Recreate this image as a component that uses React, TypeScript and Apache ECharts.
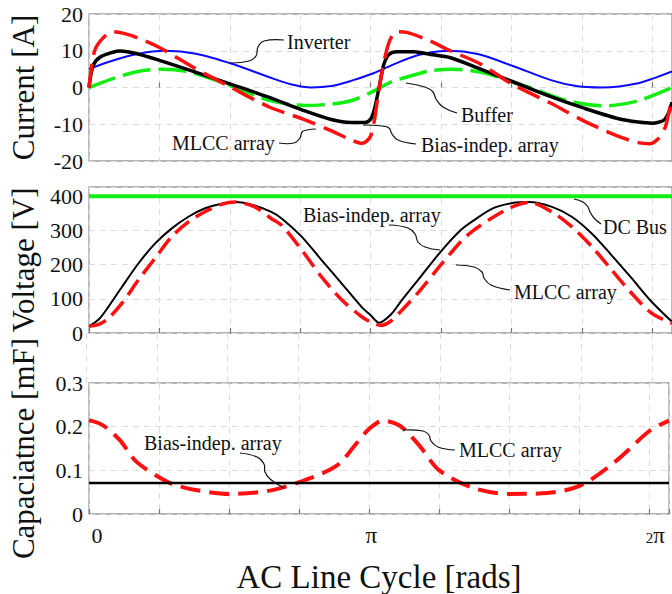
import React, { useEffect, useRef } from "react";
import * as echarts from "echarts";

// x values are in units of pi (AC line cycle)
const X_MAX = 2.07;
const X_TICK_LABELS: Record<string, string> = { "0": "{z|0}", "1": "{p|π}", "2": "{t|2}{q|π}" };

const CURRENT_TICKS = [-20, -10, 0, 10, 20];
const VOLTAGE_TICKS = [0, 100, 200, 300, 400];
const CAP_TICKS = [0, 0.1, 0.2, 0.3];

// Current [A]
const invX = [0, 0.08, 0.17, 0.27, 0.38, 0.51, 0.64, 0.72, 0.79, 0.86, 0.93, 1.0, 1.07, 1.14, 1.21, 1.28, 1.38, 1.5, 1.64, 1.73, 1.82, 1.94, 2.07];
const invY = [5.0, 7.2, 9.1, 10.0, 9.2, 6.4, 2.8, 0.8, 0.0, 0.4, 1.8, 3.6, 5.9, 8.1, 9.5, 10.0, 9.1, 6.0, 2.0, 0.4, 0.0, 1.0, 4.4];

const bufX = [0, 0.08, 0.17, 0.26, 0.36, 0.5, 0.64, 0.77, 0.86, 0.93, 1.0, 1.07, 1.14, 1.21, 1.29, 1.4, 1.5, 1.565, 1.7, 1.83, 1.95, 2.07];
const bufY = [0, 2.3, 4.3, 5.0, 4.2, 0.6, -3.5, -4.9, -4.5, -3.6, -1.4, 1.4, 3.1, 4.5, 5.0, 4.0, 1.6, 0, -3.6, -5.0, -3.6, 0];

const biasIX = [0, 0.015, 0.04, 0.085, 0.11, 0.17, 0.25, 0.37, 0.5, 0.64, 0.76, 0.86, 0.93, 0.98, 1.0, 1.012, 1.03, 1.047, 1.065, 1.094, 1.153, 1.213, 1.284, 1.39, 1.5, 1.64, 1.76, 1.88, 1.95, 2.0, 2.03, 2.046, 2.06, 2.07];
const biasIY = [0, 6, 8.3, 9.6, 9.9, 9.2, 7.4, 4.4, 1.0, -2.7, -6.2, -8.7, -9.5, -9.5, -8.6, -6.3, 0, 6.3, 9.0, 9.7, 9.7, 9.0, 8.1, 5.0, 1.7, -2.5, -5.7, -8.5, -9.4, -9.7, -9.3, -8.5, -6.5, -4];

const mlccIX = [0, 0.02, 0.05, 0.085, 0.12, 0.17, 0.25, 0.37, 0.5, 0.64, 0.76, 0.861, 0.923, 0.97, 0.998, 1.013, 1.027, 1.039, 1.056, 1.072, 1.094, 1.129, 1.213, 1.271, 1.39, 1.5, 1.64, 1.76, 1.88, 1.95, 1.99, 2.02, 2.045, 2.06, 2.07];
const mlccIY = [0, 10, 13.5, 15.2, 14.8, 13.6, 10.9, 5.5, 0.2, -5.3, -8.6, -11.8, -14, -15.2, -13.5, -9, -1.8, 3.6, 9.9, 13.5, 15.2, 15.0, 12.6, 10.4, 6.4, 1.0, -4.3, -9.2, -13.3, -15.0, -15.3, -14, -11, -6.4, -2.8];

// Voltage [V]
const busX = [0, 2.07];
const busY = [400, 400];

const biasVX = [0, 0.035, 0.07, 0.118, 0.176, 0.235, 0.294, 0.353, 0.41, 0.47, 0.52, 0.588, 0.647, 0.684, 0.755, 0.825, 0.896, 0.966, 1.0, 1.03, 1.072, 1.108, 1.178, 1.249, 1.32, 1.362, 1.432, 1.503, 1.562, 1.644, 1.714, 1.785, 1.855, 1.926, 1.996, 2.07];
const biasVY = [20, 40, 78, 136, 204, 262, 306, 340, 364, 378, 383, 373, 354, 335, 282, 214, 146, 78, 52, 30, 54, 93, 165, 238, 301, 327, 364, 380, 383, 369, 340, 291, 228, 161, 93, 33];

const mlccVX = [0, 0.035, 0.07, 0.118, 0.176, 0.235, 0.294, 0.353, 0.41, 0.47, 0.52, 0.588, 0.647, 0.684, 0.755, 0.825, 0.896, 0.966, 1.0, 1.037, 1.072, 1.108, 1.178, 1.249, 1.32, 1.362, 1.432, 1.503, 1.562, 1.644, 1.714, 1.785, 1.855, 1.926, 1.996, 2.07];
const mlccVY = [20, 25, 44, 88, 156, 219, 282, 325, 354, 376, 383, 369, 335, 315, 243, 165, 98, 49, 32, 22, 35, 64, 127, 199, 267, 298, 337, 369, 382, 354, 311, 253, 185, 117, 59, 28];

// Capacitance [mF]
const biasCX = [0, 2.07];
const biasCY = [0.071, 0.071];

const mlccCX = [0, 0.05, 0.11, 0.167, 0.25, 0.3, 0.38, 0.5, 0.64, 0.75, 0.883, 0.955, 1.0, 1.05, 1.09, 1.12, 1.18, 1.25, 1.37, 1.5, 1.636, 1.756, 1.88, 2.0, 2.07];
const mlccCY = [0.215, 0.203, 0.169, 0.121, 0.084, 0.068, 0.055, 0.046, 0.053, 0.073, 0.11, 0.162, 0.195, 0.214, 0.208, 0.197, 0.156, 0.1, 0.06, 0.046, 0.048, 0.066, 0.121, 0.19, 0.214];

const FONT = "'Liberation Serif', 'Times New Roman', serif";

const zip = (xs: number[], ys: number[]) => xs.map((x, i) => [x, ys[i]]);

type Ann = { text: string; x: number; y: number; leader: number[][] };
const ANNOTATIONS: Ann[] = [
  { text: "Inverter", x: 287, y: 42, leader: [[284, 40], [264, 41], [258, 47], [256, 56], [249, 61], [230, 63]] },
  { text: "Buffer", x: 461, y: 115, leader: [[457, 113], [443, 107], [436, 99], [433, 92], [425, 87], [406, 83]] },
  { text: "Bias-indep. array", x: 421, y: 145, leader: [[416, 144], [398, 140], [392, 134], [389, 128], [382, 126], [363, 125]] },
  { text: "MLCC array", x: 172, y: 143, leader: [[279, 143], [294, 143], [300, 138], [302, 132], [307, 130], [316, 129]] },
  { text: "Bias-indep. array", x: 303, y: 215, leader: [[389, 225], [408, 228], [415, 234], [418, 242], [425, 247], [440, 250]] },
  { text: "MLCC array", x: 514, y: 292, leader: [[510, 290], [491, 285], [484, 278], [482, 272], [474, 267], [456, 265]] },
  { text: "DC Bus", x: 603, y: 227, leader: [[601, 224], [594, 218], [590, 212], [588, 207], [583, 202], [574, 199]] },
  { text: "Bias-indep. array", x: 144, y: 443, leader: [[240, 453], [257, 457], [264, 464], [265, 472], [270, 479], [284, 488]] },
  { text: "MLCC array", x: 459, y: 450, leader: [[455, 450], [438, 447], [431, 441], [429, 435], [423, 431], [403, 430]] },
];

export default function App() {
  const ref = useRef<HTMLDivElement>(null);
  useEffect(() => {
    if (!ref.current) return;
    const chart = echarts.init(ref.current, undefined, { renderer: "svg" });
    const grids = [
      { left: 86, right: -1, top: 14, height: 147 },
      { left: 86, right: -1, top: 187, height: 146 },
      { left: 86, right: -1, top: 383, height: 146 },
      { left: 86, right: -1, top: 333, height: 50 },
    ].map((g, i) => ({
      ...g,
      show: i < 3,
      borderColor: "#9a9a9a",
      borderWidth: 1.3,
      backgroundColor: "transparent",
    }));
    const split = { show: true, lineStyle: { color: "#dcdcdc", width: 1, type: [6, 5] as any } };
    const xAxes = [0, 1, 2, 3].map((i) => ({
      type: "value",
      gridIndex: i,
      min: 0,
      max: X_MAX,
      interval: 0.25,
      axisLine: { show: false },
      axisTick: { show: i < 3, inside: true, length: 5, lineStyle: { color: "#777", width: 1.2 } },
      splitLine: split,
      axisLabel: {
        show: i === 2,
        margin: 10,
        color: "#111",
        fontFamily: FONT,
        fontSize: 22,
        formatter: (v: number) => {
          const k = String(Math.round(v * 1000) / 1000);
          return X_TICK_LABELS[k] || "";
        },
        rich: {
          z: { fontFamily: FONT, fontSize: 22, color: "#111", padding: [0, 0, 0, 16] },
          p: { fontFamily: FONT, fontSize: 23, color: "#111", padding: [0, 0, 0, 4] },
          t: { fontFamily: FONT, fontSize: 15, color: "#111", padding: [4, 0, 0, 12] },
          q: { fontFamily: FONT, fontSize: 23, color: "#111" },
        },
      },
      name: i === 2 ? "AC Line Cycle [rads]" : "",
      nameLocation: "middle",
      nameGap: 46,
      nameTextStyle: { fontFamily: FONT, fontSize: 33, color: "#111" },
    }));
    const yBase = (i: number, min: number, max: number, interval: number, name: string, showMax = true) => ({
      type: "value",
      gridIndex: i,
      min,
      max,
      interval,
      axisLine: { show: false },
      axisTick: { show: false },
      splitLine: split,
      axisLabel: {
        margin: 6,
        color: "#111",
        fontFamily: FONT,
        fontSize: 22,
        showMaxLabel: showMax,
      },
      name,
      nameLocation: "middle",
      nameGap: 50,
      nameTextStyle: { fontFamily: FONT, fontSize: 31, color: "#111" },
    });
    const yAxes = [
      yBase(0, CURRENT_TICKS[0], CURRENT_TICKS[CURRENT_TICKS.length - 1], 10, "Current [A]"),
      yBase(1, VOLTAGE_TICKS[0], 427, 100, "Voltage [V]", false),
      yBase(2, CAP_TICKS[0], CAP_TICKS[CAP_TICKS.length - 1], 0.1, "Capaciatnce [mF]"),
      { type: "value", gridIndex: 3, show: false, min: 0, max: 1 },
    ];
    const line = (idx: number, data: number[][], color: string, width: number, type: any, z = 2) => ({
      type: "line",
      xAxisIndex: idx,
      yAxisIndex: idx,
      data,
      showSymbol: false,
      symbol: "none",
      smooth: 0.3,
      z,
      lineStyle: { color, width, type, cap: "butt", join: "round" },
    });
    const series = [
      line(0, zip(invX, invY), "#0a0aff", 2, "solid", 2),
      line(0, zip(bufX, bufY), "#14ee14", 3.5, [28, 8], 3),
      line(0, zip(biasIX, biasIY), "#000", 3.5, "solid", 4),
      line(0, zip(mlccIX, mlccIY), "#ff1010", 3.5, [24, 9], 5),
      line(1, zip(busX, busY), "#14ee14", 4, "solid", 2),
      line(1, zip(biasVX, biasVY), "#000", 2, "solid", 3),
      line(1, zip(mlccVX, mlccVY), "#ff1010", 3.5, [18, 8], 4),
      line(2, zip(mlccCX, mlccCY), "#ff1010", 4, [20, 9], 3),
      line(2, zip(biasCX, biasCY), "#000", 2.5, "solid", 4),
    ];
    const graphic: any[] = [];
    ANNOTATIONS.forEach((a) => {
      graphic.push({
        type: "text",
        x: a.x,
        y: a.y,
        z: 100,
        style: { text: a.text, fontFamily: FONT, fontSize: 20, fill: "#111", textVerticalAlign: "middle", verticalAlign: "middle" },
      });
      graphic.push({
        type: "polyline",
        z: 100,
        shape: { points: a.leader, smooth: 0.45 },
        style: { stroke: "#111", lineWidth: 1.2, fill: "none" },
      });
    });
    chart.setOption({
      animation: false,
      backgroundColor: "#fff",
      grid: grids,
      xAxis: xAxes,
      yAxis: yAxes,
      series,
      graphic,
    });
    return () => chart.dispose();
  }, []);
  return <div ref={ref} style={{ position: "fixed", left: 0, top: 0, width: 672, height: 594 }} />;
}
